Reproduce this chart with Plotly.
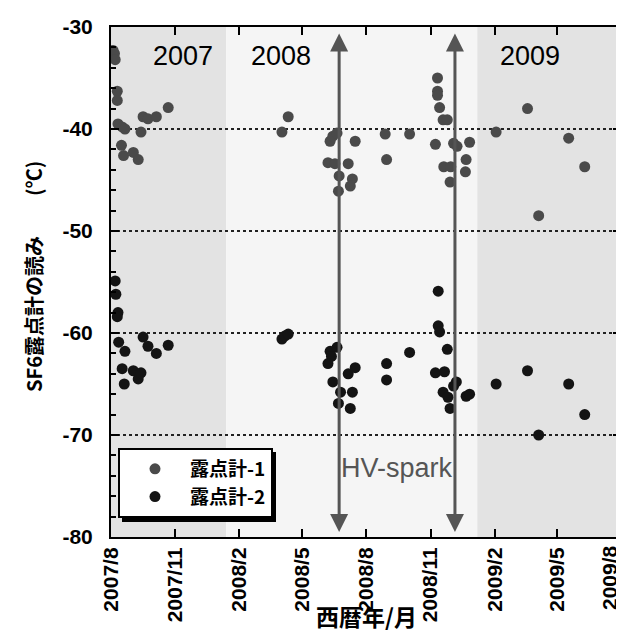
import plotly.graph_objects as go

# ---------------- data ----------------
dates1 = ["2007-08-04","2007-08-06","2007-08-07",
          "2007-08-10","2007-08-10",
          "2007-08-11","2007-08-17","2007-08-21",
          "2007-08-16","2007-08-19",
          "2007-09-02","2007-09-09","2007-09-13",
          "2007-09-16","2007-09-23","2007-10-05","2007-10-22",
          "2008-04-02","2008-04-11",
          "2008-06-10","2008-06-14","2008-06-20","2008-07-16",
          "2008-06-07","2008-06-17","2008-07-06","2008-06-23","2008-07-12","2008-07-09","2008-06-22",
          "2008-08-28","2008-08-30","2008-10-02",
          "2008-11-08","2008-11-11","2008-11-11","2008-11-11","2008-11-14","2008-11-19","2008-11-25",
          "2008-12-04","2008-12-09","2008-12-27",
          "2008-11-20","2008-11-30","2008-12-22","2008-12-21","2008-11-29",
          "2009-02-03","2009-03-20","2009-04-05","2009-05-18","2009-06-10"]
vals1 = [-32.3,-32.6,-33.2, -36.3,-37.2, -39.5,-39.8,-40.0, -41.6,-42.6,
         -42.3,-43.0,-40.3, -38.8,-39.0,-38.8,-37.9, -40.3,-38.8,
         -41.2,-40.7,-40.4,-41.2, -43.3,-43.4,-43.4,-44.6,-44.9,-45.6,-46.1,
         -40.5,-43.0,-40.5, -41.5,-35.0,-36.3,-36.7,-37.9,-39.1,-39.1,
         -41.4,-41.7,-41.3, -43.7,-43.7,-43.0,-44.2,-45.2,
         -40.3,-38.0,-48.5,-40.9,-43.7]

dates2 = ["2007-08-07","2007-08-08","2007-08-11","2007-08-10","2007-08-12","2007-08-21","2007-08-17","2007-08-20",
          "2007-09-02","2007-09-09","2007-09-13","2007-09-16","2007-09-23","2007-10-05","2007-10-22",
          "2008-04-02","2008-04-06","2008-04-11",
          "2008-06-10","2008-06-20","2008-06-12","2008-06-07","2008-06-14","2008-06-25","2008-06-22",
          "2008-07-12","2008-07-09","2008-07-06","2008-07-16",
          "2008-08-30","2008-08-30","2008-10-02",
          "2008-11-12","2008-11-12","2008-11-14","2008-11-25","2008-11-08","2008-11-21","2008-12-08",
          "2008-12-04","2008-11-19","2008-11-26","2008-11-29","2008-12-22","2008-12-27",
          "2009-02-03","2009-03-20","2009-04-05","2009-05-18","2009-06-10"]
vals2 = [-54.9,-56.2,-58.0,-58.4,-60.9,-61.8,-63.5,-65.0,
         -63.7,-64.5,-63.9,-60.4,-61.3,-62.0,-61.2,
         -60.6,-60.3,-60.1,
         -61.8,-61.4,-62.3,-63.0,-64.8,-65.8,-66.9,-65.8,-67.4,-64.0,-63.4,
         -63.0,-64.6,-61.9,
         -55.9,-59.3,-59.9,-61.6,-63.9,-63.8,-64.8,-65.2,-65.8,-66.3,-67.4,-66.2,-66.0,
         -65.0,-63.7,-70.0,-65.0,-68.0]

series_names = ["露点計-1", "露点計-2"]
year_labels = ["2007", "2008", "2009"]
year_label_dates = ["2007-11-12", "2008-04-01", "2009-03-24"]
period_starts = ["2007-08-01", "2008-01-13", "2009-01-07"]
period_ends = ["2008-01-13", "2009-01-07", "2009-08-01"]
spark_dates = ["2008-06-23", "2008-12-06"]
x_range = ["2007-08-01", "2009-08-01"]
x_tickvals = ["2007-08-01", "2007-11-01", "2008-02-01", "2008-05-01", "2008-08-01",
              "2008-11-01", "2009-02-01", "2009-05-01", "2009-08-01"]
x_ticktext = ["2007/8", "2007/11", "2008/2", "2008/5", "2008/8",
              "2008/11", "2009/2", "2009/5", "2009/8"]
y_range = [-80, -30]
y_tickvals = [-80, -70, -60, -50, -40, -30]
y_ticktext = ["-80", "-70", "-60", "-50", "-40", "-30"]

FONT = "Liberation Sans, Arial, Noto Sans CJK JP"
JP = "Noto Sans CJK JP, Liberation Sans"

# page has an 8px body margin: figure is sized so the plot lands where the reference has it
W, H = 616, 624
ML, MR, MT, MB = 103, 3, 19, 95
PW = W - ML - MR
PH = H - MT - MB

fig = go.Figure()
fig.add_trace(go.Scatter(x=dates1, y=vals1, mode="markers", name=series_names[0],
                         marker=dict(color="#4a4a4a", size=11)))
fig.add_trace(go.Scatter(x=dates2, y=vals2, mode="markers", name=series_names[1],
                         marker=dict(color="#141414", size=11)))

shade = ["#e3e3e3", "#f5f5f5", "#e3e3e3"]
for s, e, c in zip(period_starts, period_ends, shade):
    fig.add_shape(type="rect", xref="x", yref="paper", x0=s, x1=e, y0=0, y1=1,
                  fillcolor=c, line_width=0, layer="below")

for d, lab in zip(year_label_dates, year_labels):
    fig.add_annotation(x=d, y=-32.8, xref="x", yref="y", text=lab, showarrow=False,
                       font=dict(family=FONT, size=27, color="black"))

for d in spark_dates:
    fig.add_annotation(x=d, y=-79.5, ax=d, ay=-30.5, xref="x", yref="y",
                       axref="x", ayref="y", text="", showarrow=True,
                       arrowhead=2, startarrowhead=2, arrowside="end+start",
                       arrowwidth=3, arrowsize=1.2, startarrowsize=1.2,
                       arrowcolor="#555555")

fig.add_annotation(x="2008-09-14", y=-73.2, xref="x", yref="y", text="HV-spark",
                   showarrow=False, font=dict(family=FONT, size=27, color="#555555"))

# last x tick label sits at the page edge: drawn as a rotated label kept inside the page
TICKFONT = dict(family=FONT, size=21, color="black", weight="bold")
fig.add_annotation(x=x_tickvals[-1], y=0, xref="x", yref="paper", text=x_ticktext[-1],
                   textangle=-90, xanchor="right", yanchor="top", xshift=2, yshift=-6,
                   showarrow=False, font=TICKFONT)

# axis titles (positions in px relative to plot area)
fig.add_annotation(x=0.5, y=-79 / PH, xref="paper", yref="paper", text="西暦年/月",
                   xanchor="center", yanchor="middle",
                   showarrow=False, font=dict(family=JP, size=23, color="black", weight="bold"))
fig.add_annotation(x=-77 / PW, y=0.51, xref="paper", yref="paper", text="SF6露点計の読み　　(℃)",
                   textangle=-90, xanchor="center", yanchor="middle", showarrow=False,
                   font=dict(family=JP, size=20, color="black", weight="bold"))

# legend drop shadow
fig.add_shape(type="rect", xref="paper", yref="paper",
              x0=11 / PW, x1=165 / PW, y0=15 / PH, y1=85 / PH,
              fillcolor="black", line_width=0, layer="above")

fig.update_layout(
    width=W, height=H,
    margin=dict(l=ML, r=MR, t=MT, b=MB, autoexpand=False),
    paper_bgcolor="white", plot_bgcolor="white",
    showlegend=True,
    legend=dict(x=7 / PW, y=19 / PH, xanchor="left", yanchor="bottom",
                bgcolor="white", bordercolor="black", borderwidth=2,
                font=dict(family=JP, size=19, color="black", weight="bold"),
                itemwidth=60),
)
fig.update_xaxes(type="date", range=x_range,
                 tickvals=x_tickvals, ticktext=x_ticktext[:-1] + [""],
                 tickangle=-90, automargin=False,
                 ticks="inside", ticklen=8, tickwidth=2, tickcolor="black",
                 showline=True, linewidth=2, linecolor="black", mirror="ticks",
                 showgrid=False, zeroline=False,
                 tickfont=TICKFONT)
fig.update_yaxes(range=y_range, tickvals=y_tickvals, ticktext=y_ticktext,
                 automargin=False,
                 ticks="inside", ticklen=8, tickwidth=2, tickcolor="black",
                 minor=dict(dtick=2, ticks="inside", ticklen=5, tickwidth=2, tickcolor="black", showgrid=False),
                 showline=True, linewidth=2, linecolor="black", mirror="ticks",
                 showgrid=True, gridcolor="#222222", gridwidth=2, griddash="dot",
                 zeroline=False, ticklabelstandoff=12,
                 tickfont=TICKFONT)

fig.write_html("out.html")
